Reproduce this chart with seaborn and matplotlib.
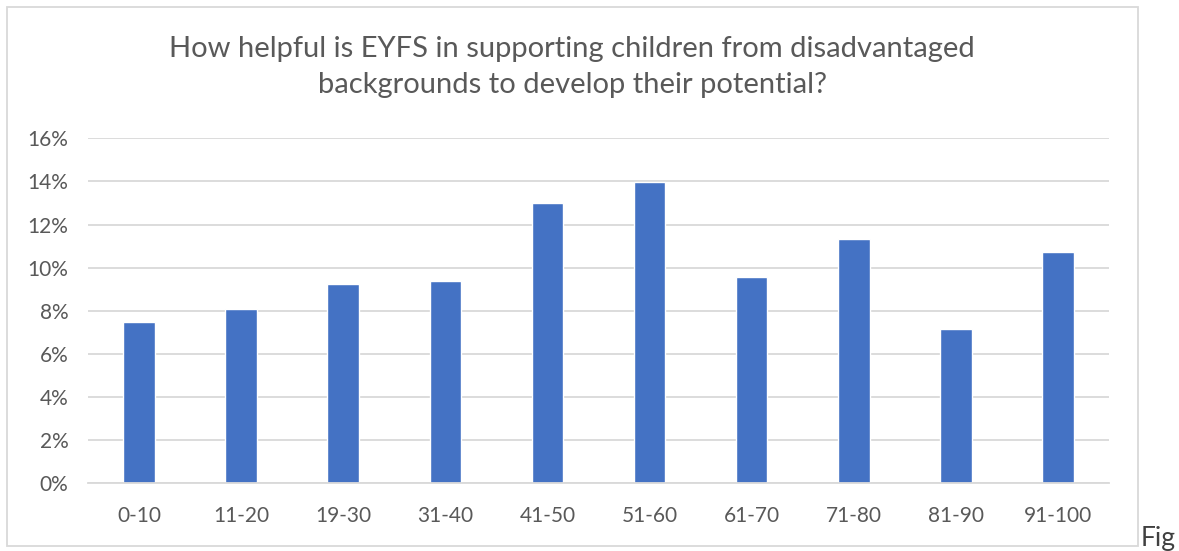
"""Bar chart of how helpful EYFS is for children from disadvantaged backgrounds, by score band."""

import numpy as np
import pandas as pd
import matplotlib
matplotlib.use("Agg")
import matplotlib.pyplot as plt
import seaborn as sns
from matplotlib.patches import Rectangle
from matplotlib.ticker import PercentFormatter

# data
score_bands = ["0-10", "11-20", "19-30", "31-40", "41-50",
               "51-60", "61-70", "71-80", "81-90", "91-100"]
share_pct = [7.47, 8.07, 9.23, 9.40, 12.99, 13.97, 9.58, 11.32, 7.16, 10.71]
y_ticks = [0, 2, 4, 6, 8, 10, 12, 14, 16]

title_text = ("How helpful is EYFS in supporting children from disadvantaged\n"
              "backgrounds to develop their potential?")

sns.set_style("white")
plt.rcParams['font.family'] = ['Lato', 'DejaVu Sans']

text_grey = '#595959'
grid_grey = '#D9D9D9'
bar_blue = '#4472C4'

W, H = 1179, 551
fig = plt.figure(figsize=(W / 100, H / 100), dpi=100)

# axes placed in pixel terms of the reference
left, right, top, bottom = 88, 1109, 138.3, 483.3
ax = fig.add_axes([left / W, 1 - bottom / H, (right - left) / W, (bottom - top) / H])

df = pd.DataFrame({'band': score_bands, 'share': share_pct})
sns.barplot(data=df, x='band', y='share', color=bar_blue, width=0.31,
            saturation=1, ax=ax, zorder=3)

ax.set_xlim(-0.5, len(score_bands) - 0.5)
ax.set_ylim(0, 16)
ax.set_yticks(y_ticks)
ax.yaxis.set_major_formatter(PercentFormatter(decimals=0))
ax.set_xlabel('')
ax.set_ylabel('')

# gridlines
ax.grid(axis='y', color=grid_grey, linewidth=1.3, zorder=0)
ax.grid(axis='x', visible=False)
for side in ['top', 'right', 'left']:
    ax.spines[side].set_visible(False)
ax.spines['bottom'].set_color(grid_grey)
ax.spines['bottom'].set_linewidth(1.3)
ax.spines['bottom'].set_zorder(4)

ax.tick_params(axis='both', length=0, labelsize=15, colors=text_grey)
ax.tick_params(axis='y', pad=14)
ax.tick_params(axis='x', pad=16)

# title
fig.text(572 / W, 1 - 67 / H, title_text, ha='center', va='center',
         fontsize=21, color=text_grey, linespacing=1.45)

# chart border
fig.patches.append(Rectangle((7 / W, 1 - 546 / H), (1138 - 7) / W, (546 - 7) / H,
                             transform=fig.transFigure, fill=False,
                             edgecolor=grid_grey, linewidth=1.3))

# trailing caption text outside the chart box
fig.text(1141 / W, 1 - 546 / H, 'Fig', ha='left', va='baseline',
         fontsize=19, color='#404040')

fig.savefig('out.png', dpi=100)
